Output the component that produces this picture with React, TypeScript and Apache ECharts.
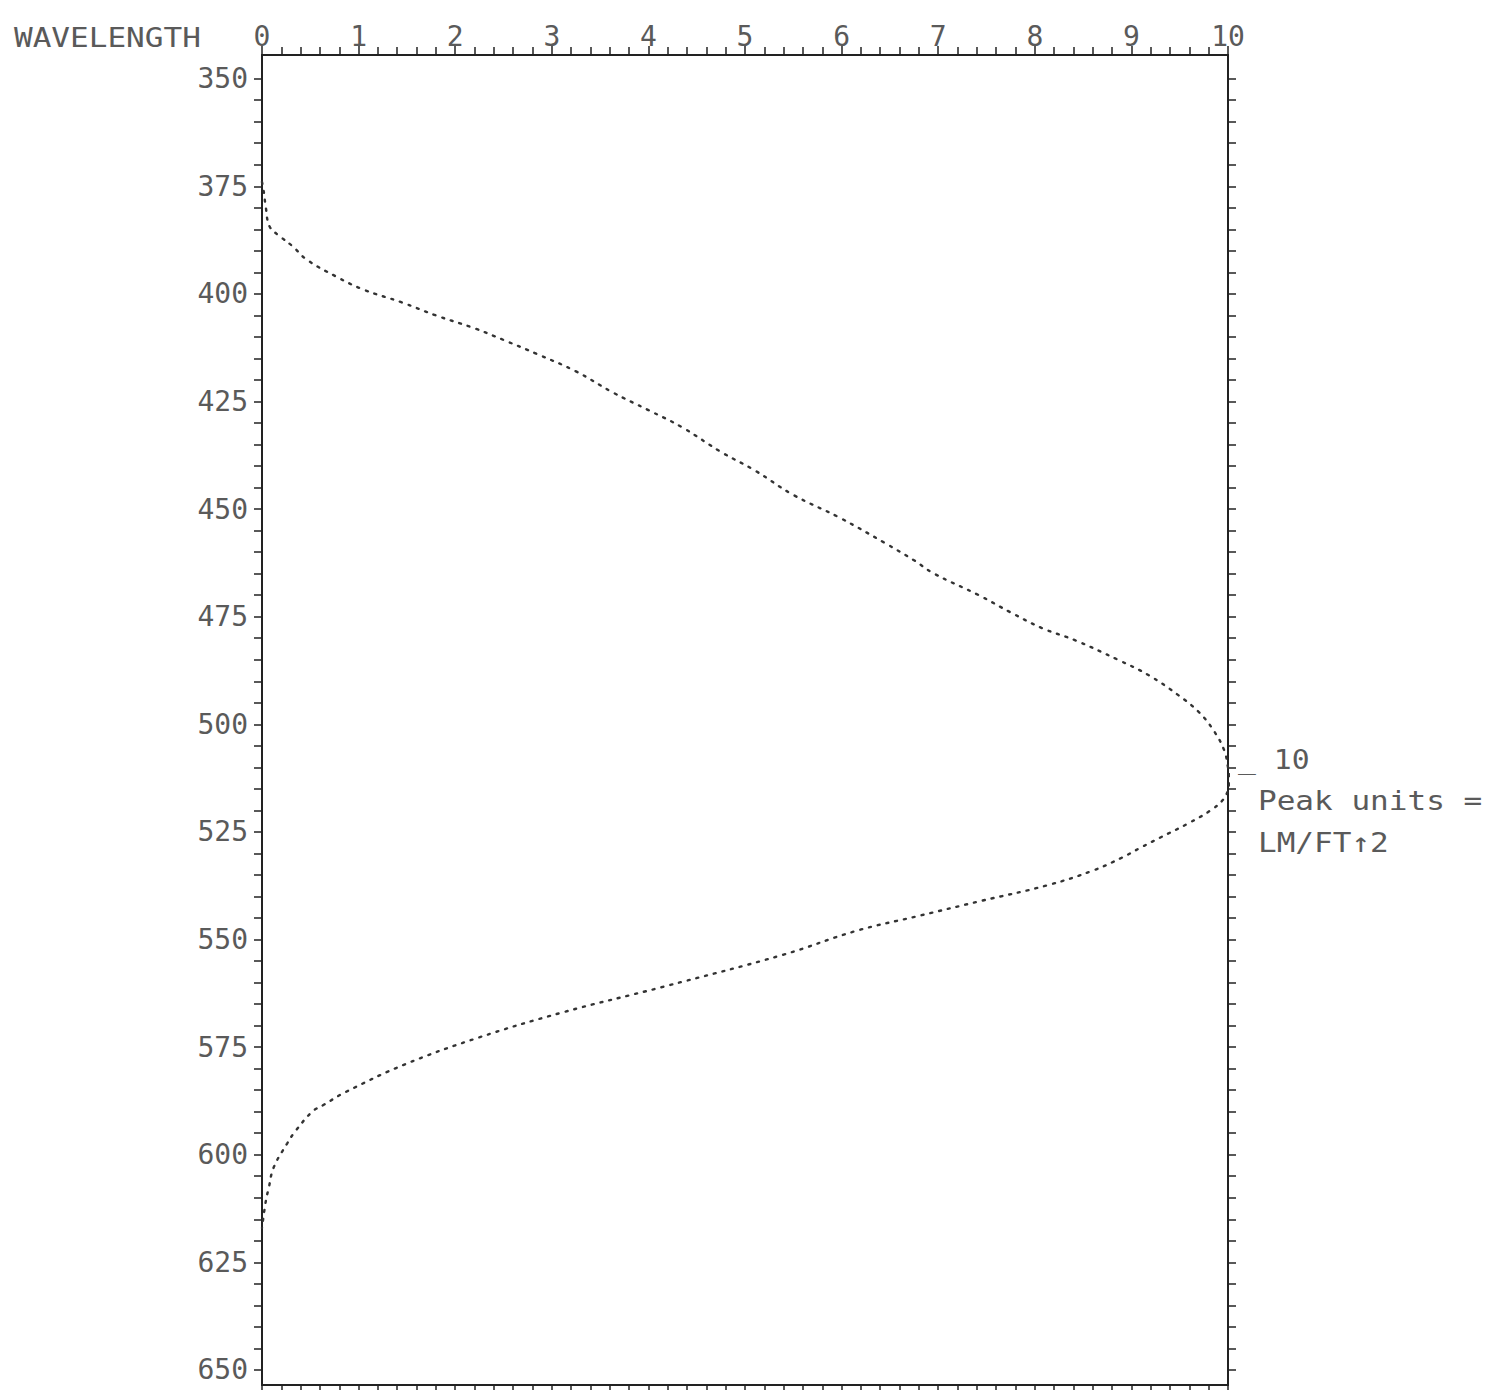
import React, { useEffect, useRef } from "react";
import * as echarts from "echarts";

const wavelengths = [
  374, 376.5, 380, 384.4, 386.7, 389, 392, 396, 399, 402, 405, 408, 410.7, 414, 418, 423, 427, 431,
  436.7, 441, 446.7, 452, 457.9, 461.9, 464.9, 470, 474, 477.7, 480.5, 485.1, 488.6, 493.3, 497.2,
  501.4, 506, 510, 513, 515.3, 517.5, 520, 523, 526.3, 528.6, 531, 534, 537.4, 541, 544.5, 548,
  553.5, 561, 567, 572.8, 579, 585.5, 588.4, 590, 594.7, 597.4, 603, 607.7, 610.7, 617,
];
const peakValues = [
  0, 0.02, 0.04, 0.08, 0.19, 0.32, 0.46, 0.77, 1.05, 1.45, 1.8, 2.2, 2.5, 2.85, 3.25, 3.64, 4.0, 4.35,
  4.75, 5.1, 5.5, 5.98, 6.45, 6.75, 6.95, 7.42, 7.75, 8.08, 8.42, 8.87, 9.18, 9.49, 9.7,
  9.85, 9.96, 10.0, 10.02, 10.0, 9.95, 9.82, 9.59, 9.3, 9.1, 8.9, 8.6, 8.13, 7.45, 6.8, 6.15,
  5.4, 4.15, 3.1, 2.24, 1.48, 0.86, 0.64, 0.52, 0.34, 0.26, 0.12, 0.07, 0.04, 0,
];
const wavelengthLabels = [350, 375, 400, 425, 450, 475, 500, 525, 550, 575, 600, 625, 650];
const wavelengthTicks: number[] = [];
for (let w = 350; w <= 650; w += 5) wavelengthTicks.push(w);

const FONT = "DejaVu Sans Mono";
const TEXT = "#5a5a5a";
const LINE = "#222";

export default function App() {
  const ref = useRef<HTMLDivElement>(null);
  useEffect(() => {
    if (!ref.current) return;
    const chart = echarts.init(ref.current, undefined, { renderer: "svg" });
    const xCommon = {
      type: "value" as const,
      min: 0,
      max: 10,
      interval: 1,
      splitLine: { show: false },
      axisLine: { show: true, onZero: false, lineStyle: { color: LINE, width: 2 } },
      axisTick: { show: true, length: 9, lineStyle: { color: LINE, width: 1.5 } },
      minorTick: { show: true, splitNumber: 5, length: 8, lineStyle: { color: LINE, width: 1.5 } },
    };
    const yCommon = {
      type: "value" as const,
      inverse: true,
      min: 344.5,
      max: 653.5,
      splitLine: { show: false },
      axisLine: { show: true, onZero: false, lineStyle: { color: LINE, width: 2 } },
      axisTick: {
        show: true,
        length: 8,
        customValues: wavelengthTicks,
        lineStyle: { color: LINE, width: 1.5 },
      },
    };
    chart.setOption({
      animation: false,
      backgroundColor: "#ffffff",
      grid: { left: 262, top: 55, width: 966, height: 1330, containLabel: false },
      xAxis: [
        {
          ...xCommon,
          position: "top",
          axisLabel: {
            show: true,
            margin: 5,
            fontFamily: FONT,
            fontSize: 28,
            color: TEXT,
          },
        },
        {
          ...xCommon,
          position: "bottom",
          axisLabel: { show: false },
        },
      ],
      yAxis: [
        {
          ...yCommon,
          position: "left",
          axisLabel: {
            show: true,
            customValues: wavelengthLabels,
            margin: 14,
            fontFamily: FONT,
            fontSize: 28,
            color: TEXT,
          },
        },
        {
          ...yCommon,
          position: "right",
          axisLabel: { show: false },
        },
      ],
      graphic: [
        {
          type: "text",
          x: 14,
          y: 38,
          scaleX: 1.15,
          style: {
            text: "WAVELENGTH",
            fontFamily: FONT,
            fontSize: 27,
            fill: TEXT,
            textVerticalAlign: "middle",
          },
        },
        {
          type: "text",
          x: 1238,
          y: 760,
          scaleX: 1.1,
          style: {
            text: "_ 10",
            fontFamily: FONT,
            fontSize: 27,
            fill: TEXT,
            textVerticalAlign: "middle",
          },
        },
        {
          type: "text",
          x: 1258,
          y: 801,
          scaleX: 1.15,
          style: {
            text: "Peak units =",
            fontFamily: FONT,
            fontSize: 27,
            fill: TEXT,
            textVerticalAlign: "middle",
          },
        },
        {
          type: "text",
          x: 1258,
          y: 843,
          scaleX: 1.15,
          style: {
            text: "LM/FT\u21912",
            fontFamily: FONT,
            fontSize: 27,
            fill: TEXT,
            textVerticalAlign: "middle",
          },
        },
      ],
      series: [
        {
          type: "line",
          xAxisIndex: 0,
          yAxisIndex: 0,
          data: wavelengths.map((w, i) => [peakValues[i], w]),
          showSymbol: false,
          symbol: "none",
          smooth: 0.4,
          lineStyle: { color: "#333", width: 2.4, type: [2, 7], cap: "round" },
        },
      ],
    });
    return () => chart.dispose();
  }, []);
  return (
    <div
      ref={ref}
      style={{ position: "fixed", left: 0, top: 0, width: 1489, height: 1390, background: "#fff" }}
    />
  );
}
